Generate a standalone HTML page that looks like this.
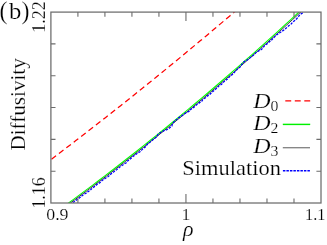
<!DOCTYPE html>
<html><head><meta charset="utf-8"><style>
html,body{margin:0;padding:0;background:#fff;}
svg{display:block;}
text{font-family:"Liberation Serif",serif;fill:#000;stroke:#fff;stroke-width:0.2px;}
.t{filter:url(#idf);}
</style></head><body>
<svg width="327" height="245" viewBox="0 0 327 245">
<rect width="327" height="245" fill="#fff"/>
<defs><filter id="idf" x="0" y="0" width="327" height="245" filterUnits="userSpaceOnUse"><feOffset dx="0" dy="0"/></filter><clipPath id="c"><rect x="50.9" y="12.1" width="270.1" height="190.9"/></clipPath></defs>
<g clip-path="url(#c)" fill="none">
<path d="M51.00,159.53 L55.97,155.77 L60.95,151.99 L65.92,148.20 L70.90,144.40 L75.87,140.58 L80.85,136.75 L85.82,132.91 L90.79,129.05 L95.77,125.19 L100.74,121.30 L105.72,117.41 L110.69,113.50 L115.67,109.57 L120.64,105.64 L125.62,101.69 L130.59,97.73 L135.56,93.75 L140.54,89.76 L145.51,85.76 L150.49,81.74 L155.46,77.71 L160.44,73.67 L165.41,69.61 L170.38,65.54 L175.36,61.46 L180.33,57.36 L185.31,53.25 L190.28,49.13 L195.26,44.99 L200.23,40.84 L205.21,36.68 L210.18,32.50 L215.15,28.31 L220.13,24.11 L225.10,19.90 L230.08,15.67 L235.05,11.42 L240.03,7.17 L245.00,2.90" stroke="#ff0000" stroke-width="1.25" stroke-dasharray="5.7 3.63" stroke-dashoffset="8.7"/>
<path d="M60.00,209.26 L66.41,204.59 L72.82,199.89 L79.23,195.15 L85.64,190.38 L92.05,185.58 L98.46,180.74 L104.87,175.86 L111.28,170.96 L117.69,166.01 L124.10,161.04 L130.51,156.03 L136.92,150.98 L143.33,145.90 L149.74,140.79 L156.15,135.64 L162.56,130.45 L168.97,125.24 L175.38,119.99 L181.79,114.70 L188.21,109.38 L194.62,104.02 L201.03,98.64 L207.44,93.21 L213.85,87.75 L220.26,82.26 L226.67,76.74 L233.08,71.17 L239.49,65.58 L245.90,59.95 L252.31,54.29 L258.72,48.59 L265.13,42.86 L271.54,37.09 L277.95,31.29 L284.36,25.45 L290.77,19.58 L297.18,13.68 L303.59,7.74 L310.00,1.77" stroke="#00ff00" stroke-width="1.1"/>
<path d="M61.80,209.26 L68.21,204.59 L74.62,199.89 L81.03,195.15 L87.44,190.38 L93.85,185.58 L100.26,180.74 L106.67,175.86 L113.08,170.96 L119.49,166.01 L125.90,161.04 L132.31,156.03 L138.72,150.98 L145.13,145.90 L151.54,140.79 L157.95,135.64 L164.36,130.45 L170.77,125.24 L177.18,119.99 L183.59,114.70 L190.01,109.38 L196.42,104.02 L202.83,98.64 L209.24,93.21 L215.65,87.75 L222.06,82.26 L228.47,76.74 L234.88,71.17 L241.29,65.58 L247.70,59.95 L254.11,54.29 L260.52,48.59 L266.93,42.86 L273.34,37.09 L279.75,31.29 L286.16,25.45 L292.57,19.58 L298.98,13.68 L305.39,7.74 L311.80,1.77" stroke="#3a3a3a" stroke-width="1.0"/>
<path d="M64.44,209.26 L66.03,207.81 L67.92,206.35 L69.33,204.89 L71.80,203.43 L73.77,201.96 L75.85,200.49 L77.68,199.02 L79.85,197.55 L81.71,196.07 L83.46,194.58 L86.11,193.10 L88.10,191.61 L90.35,190.12 L91.85,188.62 L93.70,187.12 L95.66,185.62 L97.35,184.11 L100.10,182.60 L101.47,181.09 L103.44,179.57 L105.73,178.05 L108.23,176.53 L109.84,175.00 L111.45,173.47 L113.54,171.94 L115.93,170.40 L117.68,168.87 L119.49,167.32 L121.64,165.78 L123.92,164.23 L126.28,162.67 L127.31,161.12 L129.48,159.56 L131.42,157.99 L132.92,156.43 L135.36,154.86 L137.32,153.29 L139.96,151.71 L141.57,150.13 L143.11,148.55 L145.33,146.96 L146.56,145.37 L147.68,143.78 L149.98,142.18 L151.94,140.58 L153.82,138.98 L156.05,137.37 L157.33,135.76 L158.12,134.15 L160.50,132.53 L163.52,130.91 L167.73,129.29 L169.74,127.66 L171.85,126.03 L172.26,124.40 L173.25,122.76 L174.44,121.12 L176.82,119.48 L178.43,117.83 L181.31,116.18 L183.40,114.53 L185.84,112.87 L189.33,111.21 L190.69,109.55 L193.02,107.88 L195.11,106.21 L196.84,104.54 L199.33,102.86 L201.79,101.18 L202.91,99.50 L205.49,97.81 L207.18,96.12 L209.77,94.43 L211.39,92.73 L213.45,91.03 L215.45,89.33 L217.34,87.62 L218.85,85.91 L221.69,84.20 L222.87,82.48 L225.36,80.76 L227.48,79.04 L228.95,77.31 L231.04,75.58 L233.15,73.85 L234.59,72.11 L236.33,70.37 L237.73,68.63 L240.31,66.88 L241.42,65.13 L242.45,63.38 L244.31,61.62 L247.41,59.86 L249.83,58.10 L251.97,56.33 L254.20,54.56 L255.74,52.79 L258.58,51.01 L261.65,49.23 L263.26,47.44 L264.61,45.66 L266.98,43.87 L269.17,42.07 L271.37,40.28 L272.99,38.48 L274.73,36.67 L276.61,34.86 L279.39,33.05 L282.09,31.24 L284.65,29.42 L286.78,27.60 L288.76,25.78 L291.14,23.95 L292.75,22.12 L295.15,20.29 L296.92,18.45 L298.48,16.61 L299.75,14.77 L302.40,12.92 L303.80,11.07 L306.13,9.21 L307.77,7.36 L309.48,5.50 L312.07,3.63 L314.09,1.77" stroke="#0000ff" stroke-width="1.3" stroke-dasharray="2.4 1.2"/>
</g>
<path d="M77.91,203.0v-4.6 M77.91,12.1v4.6 M104.92,203.0v-4.6 M104.92,12.1v4.6 M131.93,203.0v-4.6 M131.93,12.1v4.6 M158.94,203.0v-4.6 M158.94,12.1v4.6 M185.95,203.0v-9 M185.95,12.1v9 M212.96,203.0v-4.6 M212.96,12.1v4.6 M239.97,203.0v-4.6 M239.97,12.1v4.6 M266.98,203.0v-4.6 M266.98,12.1v4.6 M293.99,203.0v-4.6 M293.99,12.1v4.6 M50.9,171.18h4.6 M321.0,171.18h-4.6 M50.9,139.37h4.6 M321.0,139.37h-4.6 M50.9,107.55h4.6 M321.0,107.55h-4.6 M50.9,75.73h4.6 M321.0,75.73h-4.6 M50.9,43.92h4.6 M321.0,43.92h-4.6" stroke="#6c6c6c" stroke-width="1.1" fill="none"/>
<rect x="50.9" y="12.1" width="270.1" height="190.9" fill="none" stroke="#6c6c6c" stroke-width="1.25"/>
<!-- legend samples -->
<path d="M285.3,100.9H310.6" stroke="#ff0000" stroke-width="1.4" stroke-dasharray="5.9 3.6" fill="none"/>
<path d="M282.8,124.4H310.2" stroke="#00f000" stroke-width="1.45" fill="none"/>
<path d="M282.8,147.75H310" stroke="#6a6a6a" stroke-width="1.1" fill="none"/>
<path d="M282.9,170.7H310" stroke="#0000ff" stroke-width="1.4" stroke-dasharray="2.5 1.0" fill="none"/>
<g class="t">
<!-- legend text -->
<text x="253.2" y="107.5" font-size="21.8" font-style="italic" textLength="17.3" lengthAdjust="spacingAndGlyphs">D</text>
<text x="270.4" y="110.7" font-size="15" textLength="7.9" lengthAdjust="spacingAndGlyphs">0</text>
<text x="253.2" y="130.0" font-size="21.8" font-style="italic" textLength="17.3" lengthAdjust="spacingAndGlyphs">D</text>
<text x="270.4" y="133.2" font-size="15" textLength="7.9" lengthAdjust="spacingAndGlyphs">2</text>
<text x="253.2" y="153.2" font-size="21.8" font-style="italic" textLength="17.3" lengthAdjust="spacingAndGlyphs">D</text>
<text x="270.4" y="156.4" font-size="15" textLength="7.9" lengthAdjust="spacingAndGlyphs">3</text>
<text x="182.3" y="175.2" font-size="21" textLength="98.7" lengthAdjust="spacingAndGlyphs">Simulation</text>
<!-- labels -->
<text x="-0.4" y="19.2" font-size="24.2" textLength="8" lengthAdjust="spacingAndGlyphs">(</text>
<text x="9.0" y="19" font-size="22.6" textLength="12.3" lengthAdjust="spacingAndGlyphs">b</text>
<text x="21.6" y="19.2" font-size="24.2" textLength="8" lengthAdjust="spacingAndGlyphs">)</text>
<text x="46.2" y="219.7" font-size="17.1" textLength="22.4" lengthAdjust="spacingAndGlyphs">0.9</text>
<text x="181.6" y="219.7" font-size="16.9" textLength="8.9" lengthAdjust="spacingAndGlyphs">1</text>
<text x="305" y="219.7" font-size="16.9" textLength="20.4" lengthAdjust="spacingAndGlyphs">1.1</text>
<text x="182.9" y="235.9" font-size="21" font-style="italic" textLength="10.6" lengthAdjust="spacingAndGlyphs">ρ</text>
<text transform="translate(44.9,208.6) rotate(-90)" font-size="17.8" textLength="31.4" lengthAdjust="spacingAndGlyphs">1.16</text>
<text transform="translate(44.9,32.8) rotate(-90)" font-size="17.8" textLength="31.6" lengthAdjust="spacingAndGlyphs">1.22</text>
<text transform="translate(24.6,150.6) rotate(-90)" font-size="22" textLength="92.4" lengthAdjust="spacingAndGlyphs">Diffusivity</text>
</g>
</svg>
</body></html>
